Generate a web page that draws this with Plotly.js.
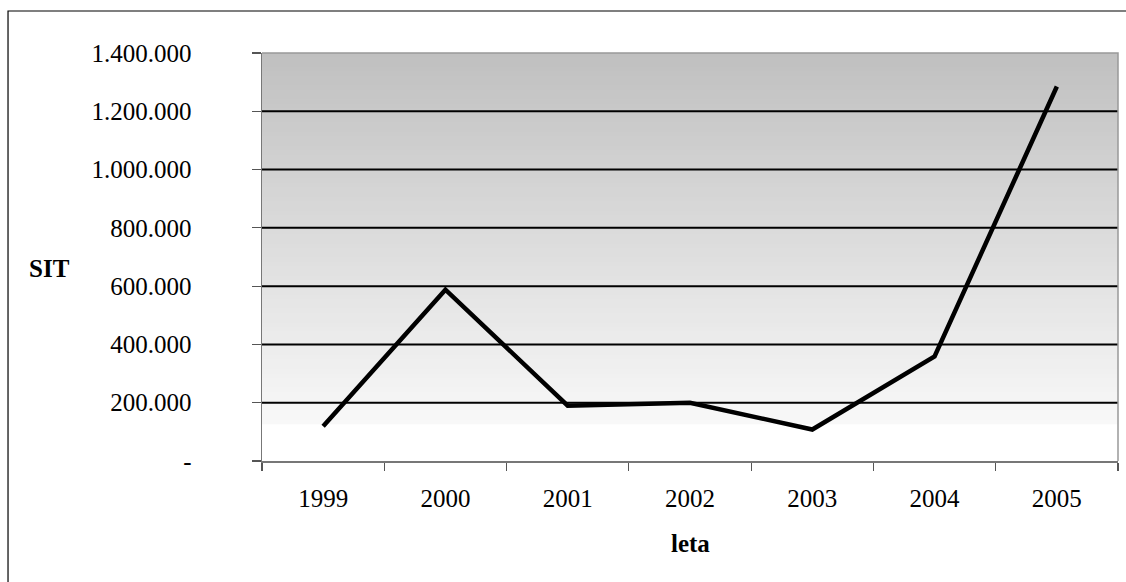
<!DOCTYPE html>
<html>
<head>
<meta charset="utf-8">
<script src="https://cdn.plot.ly/plotly-3.0.1.min.js"></script>
<style>
  html, body { margin: 0; padding: 0; background: #fff; }
  #chart { width: 1126px; height: 582px; }
</style>
</head>
<body>
<div id="chart"></div>
<script>
// Yearly amounts in SIT
const years = ['1999', '2000', '2001', '2002', '2003', '2004', '2005'];
const amounts = [119000, 588000, 190000, 200000, 108000, 359000, 1285000];

// Value axis ticks (Slovenian number format)
const yTickVals = [0, 200000, 400000, 600000, 800000, 1000000, 1200000, 1400000];
const yTickText = ['-', '200.000', '400.000', '600.000', '800.000', '1.000.000', '1.200.000', '1.400.000'];
const gridVals = [200000, 400000, 600000, 800000, 1000000, 1200000];

const serif = 'Liberation Serif, Times New Roman, serif';
const fontSize = 25;

// Grey fill behind the plot, dark at the top fading to near white
const shapes = [];
const bands = 80;
const fadeBottom = 0.09;
const step = (1 - fadeBottom) / bands;
for (let i = 0; i < bands; i++) {
  const y1 = 1 - i * step;
  const y0 = Math.max(fadeBottom, y1 - step * 1.6);
  const g = Math.round(192 + (248 - 192) * (i / (bands - 1)));
  shapes.push({
    type: 'rect', xref: 'paper', yref: 'paper', layer: 'below',
    x0: 0, x1: 1, y0: y0, y1: y1,
    fillcolor: `rgb(${g},${g},${g})`, line: { width: 0 }
  });
}
// Horizontal gridlines
gridVals.forEach(v => {
  shapes.push({
    type: 'line', xref: 'paper', yref: 'y', layer: 'below',
    x0: 0, x1: 1, y0: v, y1: v,
    line: { color: '#000', width: 2 }
  });
});
// Plot border (top and right)
shapes.push({
  type: 'path', xref: 'paper', yref: 'paper', layer: 'above',
  path: 'M 0 1 L 1 1 L 1 0',
  line: { color: '#999', width: 1.5 }
});
// Outer chart frame
shapes.push({
  type: 'rect', xref: 'paper', yref: 'paper', layer: 'above',
  x0: -0.2967, x1: 1.02, y0: -0.35, y1: 1.1029,
  line: { color: '#000', width: 1.2 }
});

const trace = {
  x: years,
  y: amounts,
  type: 'scatter',
  mode: 'lines',
  line: { color: '#000', width: 4.5 },
  hoverinfo: 'x+y'
};

const layout = {
  width: 1126,
  height: 582,
  margin: { l: 262, r: 8, t: 53, b: 121 },
  paper_bgcolor: '#fff',
  plot_bgcolor: '#fff',
  showlegend: false,
  shapes: shapes,
  xaxis: {
    type: 'category',
    range: [-0.5, 6.5],
    tickson: 'boundaries',
    ticks: 'outside',
    ticklen: 8,
    tickwidth: 1.2,
    tickcolor: '#555',
    showline: true,
    linecolor: '#777',
    linewidth: 1.5,
    showgrid: false,
    zeroline: false,
    ticklabelstandoff: 14,
    tickfont: { family: serif, size: fontSize, color: '#000' }
  },
  yaxis: {
    range: [0, 1400000],
    tickmode: 'array',
    tickvals: yTickVals,
    ticktext: yTickText,
    ticks: 'outside',
    ticklen: 9,
    tickwidth: 1.2,
    tickcolor: '#555',
    showline: true,
    linecolor: '#777',
    linewidth: 1.5,
    showgrid: false,
    zeroline: false,
    ticklabelstandoff: 55,
    tickfont: { family: serif, size: fontSize, color: '#000' }
  },
  annotations: [
    {
      text: '<b>SIT</b>', xref: 'paper', yref: 'paper',
      x: -0.2477, y: 0.473, xanchor: 'center', yanchor: 'middle', showarrow: false,
      font: { family: serif, size: fontSize, color: '#000' }
    },
    {
      text: '<b>leta</b>', xref: 'paper', yref: 'paper',
      x: 0.5, y: -0.201, xanchor: 'center', yanchor: 'middle', showarrow: false,
      font: { family: serif, size: fontSize, color: '#000' }
    }
  ]
};

Plotly.newPlot('chart', [trace], layout, { displayModeBar: false, staticPlot: true });
</script>
</body>
</html>
